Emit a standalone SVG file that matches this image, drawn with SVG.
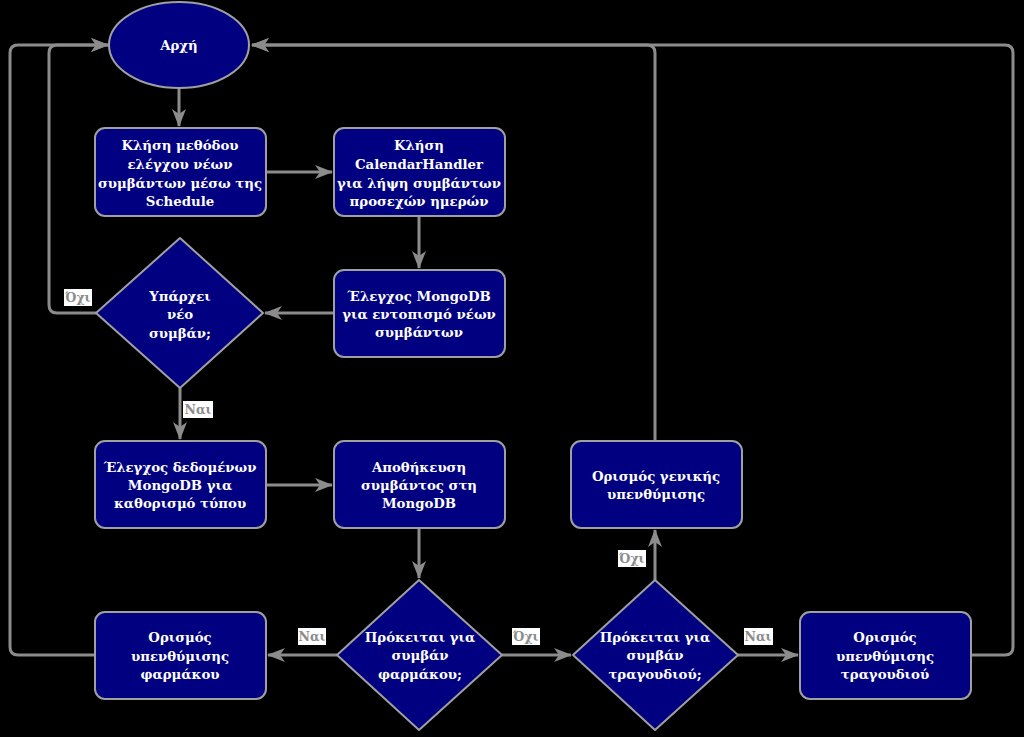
<svg xmlns="http://www.w3.org/2000/svg" width="1024" height="737" viewBox="0 0 1024 737">
<defs>
<style>
.node{fill:#000080;stroke:#a0a0a0;stroke-width:2}
.t{font-family:"DejaVu Serif","Liberation Serif",serif;font-weight:bold;font-size:13.3px;fill:#ffffff;text-anchor:middle}
.c{fill:none;stroke:#8c8c8c;stroke-width:3}
.lb{fill:#ffffff}
.lt{font-family:"DejaVu Serif","Liberation Serif",serif;font-weight:bold;font-size:12.5px;fill:#8c8c8c;text-anchor:middle}
</style>
<marker id="ar" markerUnits="userSpaceOnUse" markerWidth="20" markerHeight="16" refX="17" refY="8" orient="auto">
<path d="M0,1 L18,8 L0,15 L5,8 Z" fill="#8c8c8c"/>
</marker>
</defs>
<rect width="1024" height="737" fill="#000"/>
<g id="connectors">
<path class="c" marker-end="url(#ar)" d="M179,88 V126"/>
<path class="c" marker-end="url(#ar)" d="M266,172 H332"/>
<path class="c" marker-end="url(#ar)" d="M419,216 V268"/>
<path class="c" marker-end="url(#ar)" d="M334,313 H265"/>
<path class="c" marker-end="url(#ar)" d="M96,313 H57 Q49,313 49,305 V53 Q49,45 57,45 H108"/>
<path class="c" marker-end="url(#ar)" d="M180,388 V439"/>
<path class="c" marker-end="url(#ar)" d="M266,485 H332"/>
<path class="c" marker-end="url(#ar)" d="M419,528 V578"/>
<path class="c" marker-end="url(#ar)" d="M337,655 H268"/>
<path class="c" marker-end="url(#ar)" d="M95,655 H18 Q10,655 10,647 V53 Q10,45 18,45 H108"/>
<path class="c" marker-end="url(#ar)" d="M502,655 H571"/>
<path class="c" marker-end="url(#ar)" d="M655,580 V530"/>
<path class="c" marker-end="url(#ar)" d="M655,441 V53 Q655,45 647,45 H252"/>
<path class="c" marker-end="url(#ar)" d="M738,655 H798"/>
<path class="c" marker-end="url(#ar)" d="M971,655 H1005 Q1013,655 1013,647 V53 Q1013,45 1005,45 H252"/>
<rect class="lb" x="64" y="289" width="28" height="17"/><text class="lt" x="78" y="302">Όχι</text>
<rect class="lb" x="183" y="401" width="30" height="17"/><text class="lt" x="198" y="414">Ναι</text>
<rect class="lb" x="298" y="628" width="28" height="17"/><text class="lt" x="312" y="641">Ναι</text>
<rect class="lb" x="512" y="628" width="28" height="17"/><text class="lt" x="526" y="641">Όχι</text>
<rect class="lb" x="618" y="550" width="28" height="17"/><text class="lt" x="632" y="563">Όχι</text>
<rect class="lb" x="744" y="628" width="29" height="17"/><text class="lt" x="758" y="641">Ναι</text>
</g>
<g id="start"><ellipse class="node" cx="179" cy="45" rx="70" ry="43"/><text class="t" x="179" y="50">Αρχή</text></g>
<g id="n1"><rect class="node" x="95" y="128" width="171" height="88" rx="10"/>
<text class="t" x="180" y="150">Κλήση μεθόδου</text><text class="t" x="180" y="169">ελέγχου νέων</text><text class="t" x="180" y="188">συμβάντων μέσω της</text><text class="t" x="180" y="206">Schedule</text></g>
<g id="n2"><rect class="node" x="334" y="128" width="171" height="88" rx="10"/>
<text class="t" x="419" y="150">Κλήση</text><text class="t" x="419" y="169">CalendarHandler</text><text class="t" x="419" y="188">για λήψη συμβάντων</text><text class="t" x="419" y="206">προσεχών ημερών</text></g>
<g id="n3"><rect class="node" x="334" y="270" width="171" height="87" rx="10"/>
<text class="t" x="419" y="301">Έλεγχος MongoDB</text><text class="t" x="419" y="319">για εντοπισμό νέων</text><text class="t" x="419" y="337">συμβάντων</text></g>
<g id="d1"><path class="node" d="M180,238 L263,313 L180,388 L96,313 Z" stroke-linejoin="round"/>
<text class="t" x="180" y="301">Υπάρχει</text><text class="t" x="180" y="319">νέο</text><text class="t" x="180" y="338">συμβάν;</text></g>
<g id="n4"><rect class="node" x="95" y="441" width="171" height="87" rx="10"/>
<text class="t" x="180" y="472">Έλεγχος δεδομένων</text><text class="t" x="180" y="490">MongoDB για</text><text class="t" x="180" y="508">καθορισμό τύπου</text></g>
<g id="n5"><rect class="node" x="334" y="441" width="171" height="87" rx="10"/>
<text class="t" x="419" y="472">Αποθήκευση</text><text class="t" x="419" y="490">συμβάντος στη</text><text class="t" x="419" y="508">MongoDB</text></g>
<g id="n6"><rect class="node" x="571" y="441" width="171" height="87" rx="10"/>
<text class="t" x="656" y="481">Ορισμός γενικής</text><text class="t" x="656" y="499">υπενθύμισης</text></g>
<g id="d2"><path class="node" d="M419,580 L502,655 L419,730 L337,655 Z" stroke-linejoin="round"/>
<text class="t" x="420" y="642">Πρόκειται για</text><text class="t" x="420" y="660">συμβάν</text><text class="t" x="420" y="679">φαρμάκου;</text></g>
<g id="d3"><path class="node" d="M655,580 L738,655 L655,730 L573,655 Z" stroke-linejoin="round"/>
<text class="t" x="655" y="642">Πρόκειται για</text><text class="t" x="655" y="660">συμβάν</text><text class="t" x="655" y="679">τραγουδιού;</text></g>
<g id="n7"><rect class="node" x="95" y="612" width="171" height="87" rx="10"/>
<text class="t" x="180" y="642">Ορισμός</text><text class="t" x="180" y="661">υπενθύμισης</text><text class="t" x="180" y="679">φαρμάκου</text></g>
<g id="n8"><rect class="node" x="800" y="612" width="171" height="87" rx="10"/>
<text class="t" x="885" y="642">Ορισμός</text><text class="t" x="885" y="661">υπενθύμισης</text><text class="t" x="885" y="679">τραγουδιού</text></g>
</svg>
